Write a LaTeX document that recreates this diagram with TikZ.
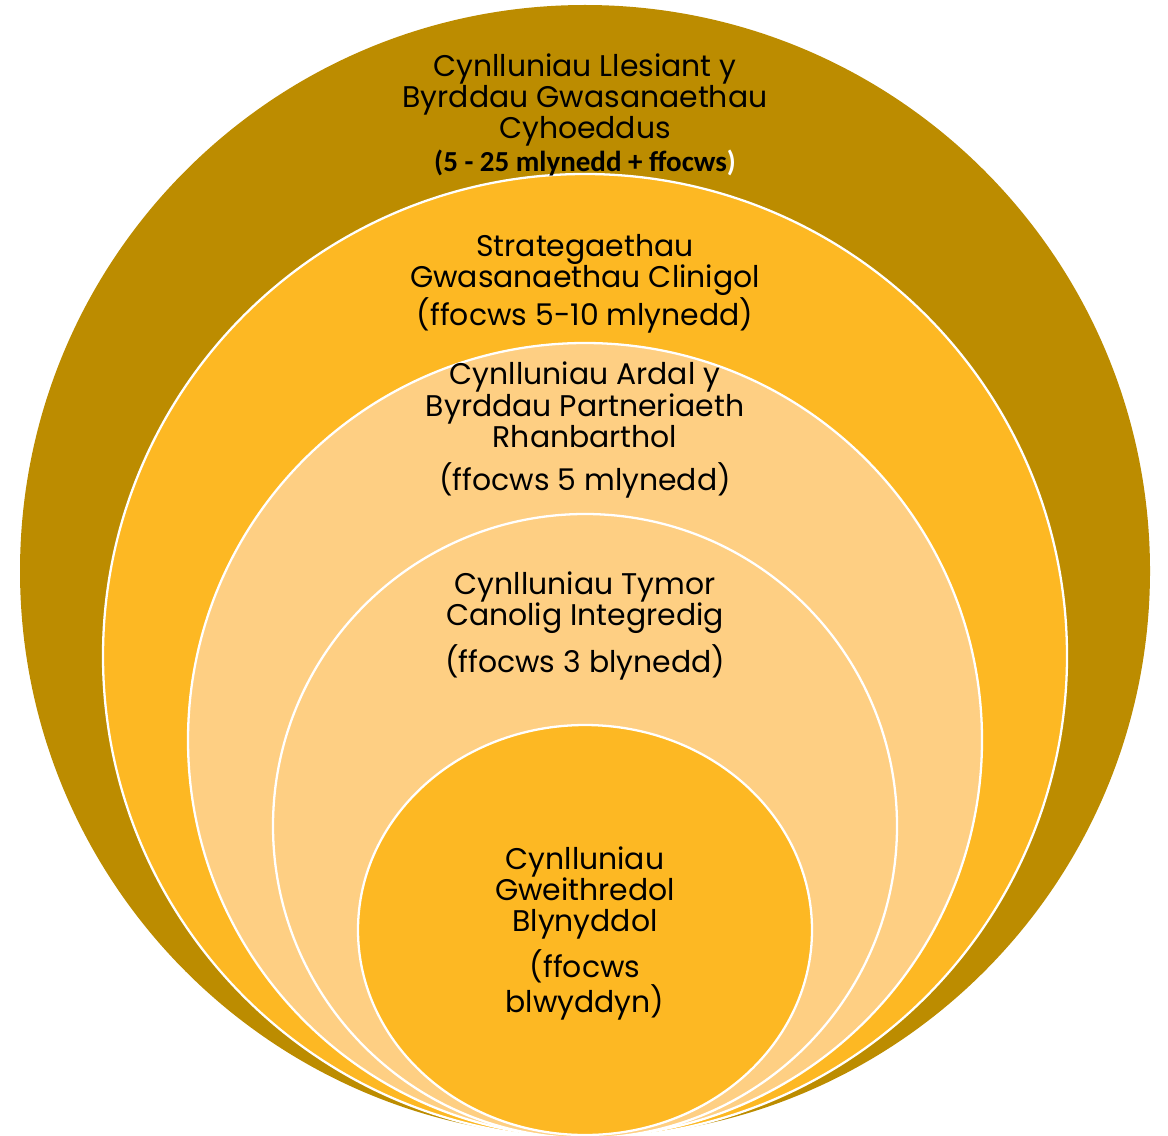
\documentclass[tikz,border=0pt]{standalone}
\usepackage{fontspec}
\setmainfont{Poppins}
\newfontfamily\notefont{Carlito}
\usepackage{xcolor}
\usetikzlibrary{positioning}

\definecolor{ochre}{HTML}{BC8C00}
\definecolor{amber}{HTML}{FDB823}
\definecolor{peach}{HTML}{FECF83}

\begin{document}
\begin{tikzpicture}[x=0.02cm, y=-0.02cm,
  ring/.style={fill=#1, draw=white, line width=1.3pt},
  plan/.style={font=\fontsize{17}{17.8}\selectfont, align=center, inner sep=0pt, text=black},
  note/.style={font=\notefont\bfseries\fontsize{16.5}{18}\selectfont, inner sep=0pt}]
  % page frame, the rings run just past the bottom edge
  \useasboundingbox (0,0) rectangle (1168,1135);
  \clip (0,0) rectangle (1168,1135);

  % nested rings, all resting on the same bottom point
  \fill[ochre] (585,571) ellipse [x radius=565, y radius=566];
  \draw[ring=amber] (585,656) ellipse [x radius=482, y radius=482];
  \draw[ring=peach] (585,740) ellipse [x radius=397, y radius=397];
  \draw[ring=peach] (585,826) ellipse [x radius=312, y radius=312];
  \draw[ring=amber] (585,930) ellipse [x radius=227, y radius=205];

  % labels, outermost first
  \node[plan] (wellbeing) at (585,100) {Cynlluniau Llesiant y\\Byrddau Gwasanaethau\\Cyhoeddus};
  \node[note] (wellbeingspan) at (585,163) {(5 - 25 mlynedd + ffocws\textcolor{white}{)}};

  \node[plan] (clinical) at (585,284) {Strategaethau\\Gwasanaethau Clinigol\\(ffocws 5-10 mlynedd)};

  \node[plan] (regional) at (585,405) {Cynlluniau Ardal y\\Byrddau Partneriaeth\\Rhanbarthol};
  \node[plan] (regionalspan) at (585,480) {(ffocws 5 mlynedd)};

  \node[plan] (imtp) at (585,603) {Cynlluniau Tymor\\Canolig Integredig};
  \node[plan] (imtpspan) at (585,662) {(ffocws 3 blynedd)};

  \node[plan] (annual) at (585,893) {Cynlluniau\\Gweithredol\\Blynyddol};
  \node[plan] (annualspan) at (585,985) {(ffocws\\blwyddyn)};
\end{tikzpicture}
\end{document}
